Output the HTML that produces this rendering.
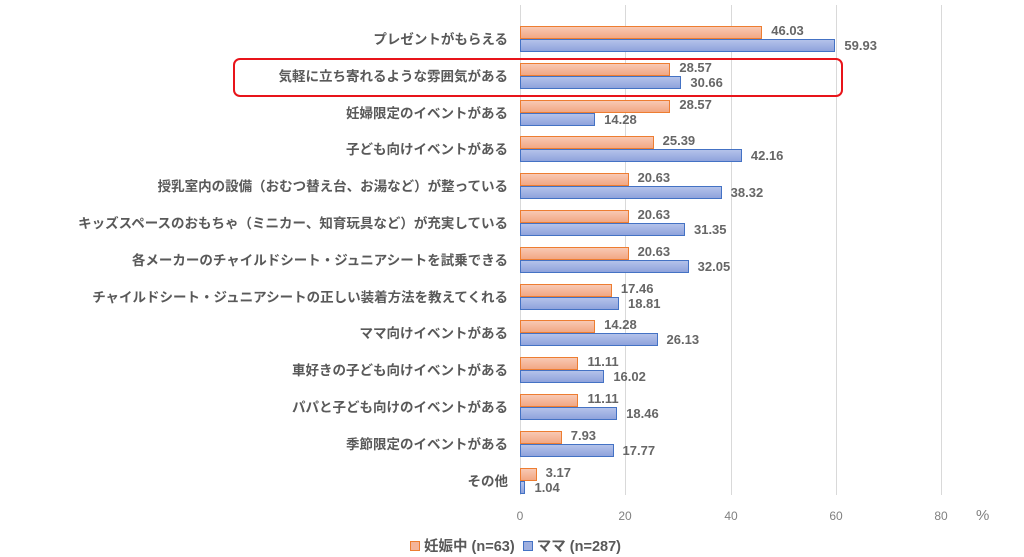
<!DOCTYPE html><html><head><meta charset="utf-8"><style>
body{margin:0;width:1024px;height:557px;background:#fff;position:relative;overflow:hidden;font-family:"Liberation Sans","Noto Sans CJK JP",sans-serif;}
.g{position:absolute;top:5px;height:490px;width:1px;background:#d9d9d9}
.c{position:absolute;right:516px;font-size:13.5px;font-weight:bold;color:#595959;white-space:nowrap;line-height:16px}
.o,.b{position:absolute;left:520px;height:13px;box-sizing:border-box}
.o{background:linear-gradient(#f8c8b4,#f2a784);border:1px solid #ed7d31}
.b{background:linear-gradient(#b4c2ea,#8fa3dc);border:1px solid #4472c4}
.v{position:absolute;font-size:13px;font-weight:bold;color:#666;line-height:14px}
.t{position:absolute;top:509px;font-size:12px;color:#808080;transform:translateX(-50%)}
</style></head><body>
<div class="g" style="left:520px"></div><div class="g" style="left:625px"></div><div class="g" style="left:731px"></div><div class="g" style="left:836px"></div><div class="g" style="left:941px"></div>
<div id="rows"></div>
<div class="t" style="left:520px">0</div><div class="t" style="left:625px">20</div><div class="t" style="left:731px">40</div><div class="t" style="left:836px">60</div><div class="t" style="left:941px">80</div>
<div style="position:absolute;left:976px;top:507px;font-size:15px;color:#808080">%</div>
<div style="position:absolute;left:410px;top:535px;font-size:14.5px;font-weight:bold;color:#595959;white-space:nowrap"><span style="display:inline-block;width:8px;height:8px;background:#f4b49a;border:1px solid #ed7d31"></span> 妊娠中 (n=63)&nbsp;&nbsp;<span style="display:inline-block;width:8px;height:8px;background:#9fb0e0;border:1px solid #4472c4"></span> ママ (n=287)</div>
<div style="position:absolute;left:233px;top:58px;width:606px;height:35px;border:2px solid #e8141a;border-radius:7px"></div>
<script>
var d=[["プレゼントがもらえる",46.03,59.93],["気軽に立ち寄れるような雰囲気がある",28.57,30.66],["妊婦限定のイベントがある",28.57,14.28],["子ども向けイベントがある",25.39,42.16],["授乳室内の設備（おむつ替え台、お湯など）が整っている",20.63,38.32],["キッズスペースのおもちゃ（ミニカー、知育玩具など）が充実している",20.63,31.35],["各メーカーのチャイルドシート・ジュニアシートを試乗できる",20.63,32.05],["チャイルドシート・ジュニアシートの正しい装着方法を教えてくれる",17.46,18.81],["ママ向けイベントがある",14.28,26.13],["車好きの子ども向けイベントがある",11.11,16.02],["パパと子ども向けのイベントがある",11.11,18.46],["季節限定のイベントがある",7.93,17.77],["その他",3.17,1.04]];
var h="",k=5.263;
d.forEach(function(r,i){var c=40+36.8*i;
h+='<div class="c" style="top:'+(c-8)+'px">'+r[0]+'</div>';
h+='<div class="o" style="top:'+(c-14)+'px;width:'+Math.max(r[1]*k,3)+'px"></div>';
h+='<div class="b" style="top:'+(c-1)+'px;width:'+Math.max(r[2]*k,3)+'px"></div>';
h+='<div class="v" style="top:'+(c-16)+'px;left:'+(520+r[1]*k+9)+'px">'+r[1].toFixed(2)+'</div>';
h+='<div class="v" style="top:'+(c-1)+'px;left:'+(520+r[2]*k+9)+'px">'+r[2].toFixed(2)+'</div>';});
document.getElementById("rows").innerHTML=h;
</script>
</body></html>
